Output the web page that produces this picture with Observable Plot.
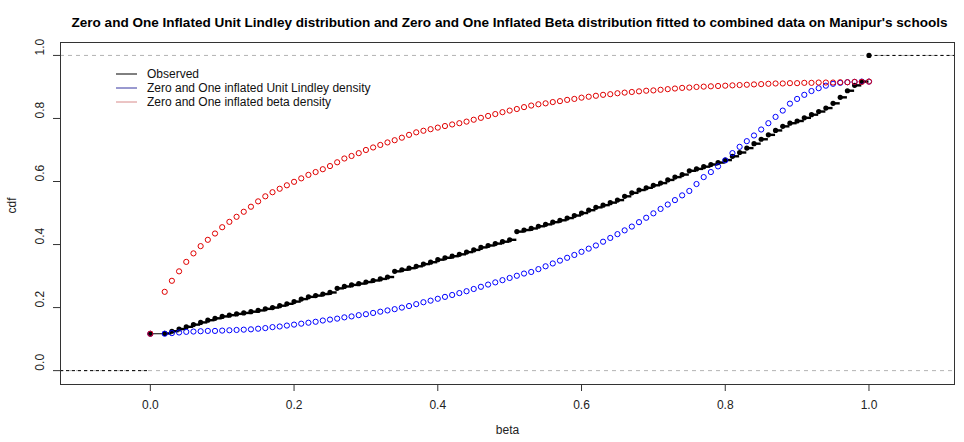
<!DOCTYPE html>
<html><head><meta charset="utf-8">
<script src="https://cdn.jsdelivr.net/npm/d3@7"></script>
<script src="https://cdn.jsdelivr.net/npm/@observablehq/plot@0.6"></script>
<style>body{margin:0;background:#fff} svg{display:block}</style>
</head><body><div id="chart"></div>
<script>
const titleText = "Zero and One Inflated Unit Lindley distribution and Zero and One Inflated Beta distribution fitted to combined data on Manipur's schools";
const xLabel = "beta";
const yLabel = "cdf";
const xTicks = [0, 0.2, 0.4, 0.6, 0.8, 1.0];
const yTicks = [0, 0.2, 0.4, 0.6, 0.8, 1.0];
const seriesNames = ["Observed", "Zero and One inflated Unit Lindley density", "Zero and One inflated beta density"];
const seriesColors = ["#000000", "#0000ff", "#e00000"];

// mass at 0 and values at 1
const atZero = 0.117;
const observedAtOne = 1.0;
const fittedAtOne = 0.917;

const xVals = [0.02,0.03,0.04,0.05,0.06,0.07,0.08,0.09,0.10,0.11,0.12,0.13,0.14,0.15,0.16,0.17,0.18,0.19,0.20,
0.21,0.22,0.23,0.24,0.25,0.26,0.27,0.28,0.29,0.30,0.31,0.32,0.33,0.34,0.35,0.36,0.37,0.38,0.39,0.40,
0.41,0.42,0.43,0.44,0.45,0.46,0.47,0.48,0.49,0.50,0.51,0.52,0.53,0.54,0.55,0.56,0.57,0.58,0.59,0.60,
0.61,0.62,0.63,0.64,0.65,0.66,0.67,0.68,0.69,0.70,0.71,0.72,0.73,0.74,0.75,0.76,0.77,0.78,0.79,0.80,
0.81,0.82,0.83,0.84,0.85,0.86,0.87,0.88,0.89,0.90,0.91,0.92,0.93,0.94,0.95,0.96,0.97,0.98,0.99];

const observedCdf = [0.118,0.125,0.132,0.139,0.146,0.153,0.160,0.166,0.172,0.176,0.180,0.183,0.187,0.191,0.196,0.200,0.206,0.212,0.219,
0.227,0.234,0.238,0.243,0.248,0.261,0.267,0.272,0.276,0.281,0.286,0.291,0.297,0.315,0.320,0.325,0.331,0.338,0.344,0.352,
0.358,0.363,0.369,0.376,0.383,0.391,0.397,0.403,0.409,0.415,0.441,0.446,0.451,0.458,0.464,0.471,0.477,0.484,0.492,0.500,
0.509,0.518,0.525,0.533,0.541,0.553,0.564,0.573,0.580,0.588,0.595,0.605,0.614,0.622,0.634,0.640,0.647,0.654,0.660,0.668,
0.680,0.692,0.706,0.720,0.734,0.748,0.762,0.775,0.785,0.792,0.802,0.812,0.822,0.833,0.848,0.867,0.888,0.905,0.917];

const lindleyCdf = [0.117,0.119,0.121,0.123,0.124,0.125,0.126,0.126,0.127,0.128,0.129,0.130,0.131,0.133,0.135,0.138,0.140,0.143,0.146,
0.149,0.152,0.155,0.159,0.162,0.165,0.169,0.172,0.176,0.179,0.183,0.187,0.191,0.195,0.200,0.205,0.211,0.217,0.222,0.228,
0.234,0.240,0.246,0.252,0.259,0.266,0.273,0.280,0.287,0.294,0.301,0.308,0.313,0.322,0.331,0.340,0.349,0.358,0.367,0.377,
0.387,0.397,0.409,0.421,0.433,0.445,0.457,0.471,0.485,0.499,0.513,0.527,0.541,0.556,0.570,0.592,0.614,0.630,0.648,0.667,
0.690,0.710,0.728,0.746,0.765,0.785,0.805,0.825,0.847,0.862,0.875,0.887,0.896,0.904,0.910,0.913,0.915,0.916,0.917];

const betaCdf = [0.250,0.285,0.315,0.345,0.372,0.395,0.415,0.435,0.455,0.472,0.488,0.504,0.520,0.537,0.553,0.566,0.577,0.588,0.599,
0.610,0.621,0.630,0.639,0.649,0.661,0.673,0.681,0.690,0.700,0.708,0.716,0.724,0.731,0.739,0.748,0.756,0.761,0.766,0.771,
0.776,0.781,0.785,0.790,0.796,0.802,0.808,0.814,0.820,0.825,0.830,0.836,0.841,0.845,0.848,0.852,0.855,0.859,0.862,0.866,
0.869,0.872,0.875,0.877,0.880,0.882,0.884,0.886,0.888,0.889,0.891,0.893,0.895,0.897,0.898,0.900,0.901,0.902,0.903,0.904,
0.905,0.906,0.907,0.908,0.909,0.910,0.911,0.911,0.912,0.912,0.913,0.913,0.914,0.914,0.914,0.915,0.915,0.916,0.916];

const xDomain = [-0.125, 1.119];
const yDomain = [-0.044, 1.041];

// Build tables
const obsPts = [{x: 0, y: atZero}, ...xVals.map((x, i) => ({x, y: observedCdf[i]})), {x: 1, y: observedAtOne}];
const obsSegs = [];
for (let i = 0; i < obsPts.length - 1; i++) {
  obsSegs.push({x1: obsPts[i].x, x2: obsPts[i + 1].x, y: obsPts[i].y});
}
const outerSegs = [
  {x1: xDomain[0], x2: obsPts[0].x, y: 0},
  {x1: obsPts[obsPts.length - 1].x, x2: xDomain[1], y: observedAtOne}
];
const lindPts = [{x: 0, y: atZero}, ...xVals.map((x, i) => ({x, y: lindleyCdf[i]})), {x: 1, y: fittedAtOne}];
const betaPts = [{x: 0, y: atZero}, ...xVals.map((x, i) => ({x, y: betaCdf[i]})), {x: 1, y: fittedAtOne}];

const plot = Plot.plot({
  width: 964,
  height: 442,
  marginLeft: 60,
  marginRight: 10,
  marginTop: 42,
  marginBottom: 58,
  style: {fontFamily: "'Liberation Sans', Arial, sans-serif", fontSize: "12px", color: "#222", background: "#fff"},
  x: {domain: xDomain, axis: null},
  y: {domain: yDomain, axis: null},
  marks: [
    Plot.ruleY([0, 1], {stroke: "#b3b3b3", strokeDasharray: "4,4", strokeWidth: 1}),
    Plot.ruleY(outerSegs, {y: "y", x1: "x1", x2: "x2", stroke: "#000", strokeDasharray: "3,3", strokeWidth: 1}),
    Plot.ruleY(obsSegs.slice(1), {y: "y", x1: "x1", x2: "x2", stroke: "#000", strokeWidth: 2.4}),
    Plot.ruleY(obsSegs.slice(0, 1), {y: "y", x1: "x1", x2: "x2", stroke: "#000", strokeWidth: 1}),
    Plot.dot(obsPts, {x: "x", y: "y", r: 2.6, fill: seriesColors[0], stroke: "none"}),
    Plot.dot(lindPts, {x: "x", y: "y", r: 2.6, fill: "none", stroke: seriesColors[1], strokeWidth: 1}),
    Plot.dot(betaPts, {x: "x", y: "y", r: 2.6, fill: "none", stroke: seriesColors[2], strokeWidth: 1}),
    Plot.frame({stroke: "#333", strokeWidth: 1}),
    Plot.axisX(xTicks, {tickSize: 7, tickPadding: 9, tickFormat: d3.format(".1f"), fontSize: 12, label: null, stroke: "#333", fill: "#222"}),
    Plot.axisY(yTicks, {tickSize: 7, tickFormat: () => "", label: null, stroke: "#333"}),
    Plot.text(yTicks, {y: d => d, text: d => d3.format(".1f")(d), frameAnchor: "left", dx: -20, rotate: -90, fontSize: 12, fill: "#222"}),
    Plot.text([xLabel], {frameAnchor: "bottom", dy: 49, fontSize: 12, fill: "#222"}),
    Plot.text([yLabel], {frameAnchor: "left", dx: -48, rotate: -90, fontSize: 12, fill: "#222"}),
    Plot.text([titleText], {frameAnchor: "top", dy: -25, dx: 2, fontSize: 13, fontWeight: "bold", fill: "#000"})
  ]
});

// Fit the title width like the reference
d3.select(plot).selectAll("text").filter(function() { return this.textContent === titleText; })
  .attr("textLength", 876).attr("lengthAdjust", "spacingAndGlyphs");

// Legend (no box), drawn in pixel space
const leg = d3.select(plot).append("g")
  .attr("font-size", 12)
  .attr("font-family", "'Liberation Sans', Arial, sans-serif")
  .attr("text-anchor", "start");
const legY = [74, 88, 102];
const legLineColors = ["#000000", "#3535a0", "#d88a8a"];
seriesNames.forEach((name, i) => {
  leg.append("line").attr("x1", 116).attr("x2", 137).attr("y1", legY[i]).attr("y2", legY[i])
    .attr("stroke", legLineColors[i]).attr("stroke-width", 1);
  leg.append("text").attr("x", 147).attr("y", legY[i]).attr("dy", "0.35em")
    .attr("text-anchor", "start").attr("fill", "#111").text(name);
});

document.getElementById("chart").appendChild(plot);
</script>
</body></html>
